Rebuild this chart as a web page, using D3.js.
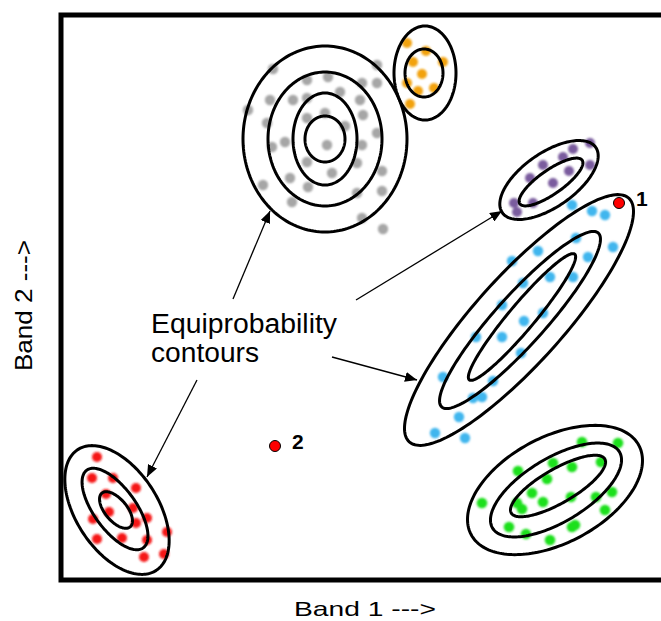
<!DOCTYPE html>
<html>
<head>
<meta charset="utf-8">
<script src="https://cdn.jsdelivr.net/npm/d3@7"></script>
<style>
  html, body { margin: 0; padding: 0; background: #fff; }
  svg { display: block; }
  text { font-family: "Liberation Sans", Arial, sans-serif; }
</style>
</head>
<body>
<svg id="chart" width="661" height="621"></svg>
<script>
// ---- data (Band 1 = x, Band 2 = y, in image-feature units) ----
const grayPoints = [[212,511],[209,480],[187,470],[206,457],[246,500],[267,503],[279,488],[301,497],[316,515],[316,497],
  [232,480],[246,482],[299,480],[302,465],[264,467],[246,462],[284,454],[224,438],[211,433],[266,435],[301,435],[316,447],
  [246,418],[296,417],[321,409],[271,407],[229,402],[247,393],[202,395],[231,378],[296,387],[321,389],[301,362],[322,351]];
const orangePoints = [[346,537],[365,529],[382,518],[352,518],[361,506],[346,497],[357,489],[373,492],[349,476]];
const purplePoints = [[529,437],[512,431],[502,423],[482,415],[529,415],[508,409],[469,402],[492,397],[453,377],[472,377],[456,368]];
const bluePoints = [[511,375],[531,369],[544,365],[515,342],[552,333],[477,329],[451,319],[527,323],[489,303],[512,303],
  [462,297],[441,275],[482,267],[463,259],[415,243],[441,243],[460,227],[382,203],[432,199],[412,182],[421,183],[398,163],[374,147],[404,142]];
const greenPoints = [[521,138],[557,137],[457,109],[492,117],[511,113],[540,118],[486,101],[471,87],[551,88],[510,83],[535,83],
  [421,77],[482,78],[456,77],[461,71],[544,70],[448,53],[514,55],[511,53],[465,46],[489,40]];
const redPoints = [[36,123],[31,102],[52,102],[75,92],[45,86],[48,68],[72,72],[86,62],[32,61],[75,57],[106,48],[36,41],[61,42],[86,40],[103,26],[83,23]];
const unknownPoints = [[558,377,"1"],[214,134,"2"]];

// contour ellipses: [cx, cy, semi-major, semi-minor, angle(deg)]
const grayContours   = [[264,441,20,23,0],[264,441,32,46,0],[264,441,57,67,0],[264,441,82,93,0]];
const orangeContours = [[363,507,19,24,0],[364,507,31,47,0]];
const purpleContours = [[490,398,38,12,35],[488,400,57,27,35]];
const blueContours   = [[461,263,82,13,50],[459,260,117,25,48],[458,260,164,44,48]];
const greenContours  = [[497,94,54,17,30],[495,90,74,32,31],[494,90,95,53,28]];
const redContours    = [[55,70,22,11,-50],[54,71,48,21,-54],[56,70,72,41,-57]];

// annotation arrows: [x1, y1, x2(tip), y2(tip)]
const arrows = [[172,281,209,369],[295,280,441,369],[271,223,356,200],[136,200,86,103]];
const noteLines = ["Equiprobability", "contours"];
const xLabel = "Band 1 --->";
const yLabel = "Band 2 --->";

// ---- scales ----
const svg = d3.select("#chart");
const x = d3.scaleLinear().domain([0, 600]).range([61, 661]);
const y = d3.scaleLinear().domain([0, 565]).range([580, 15]);

const defs = svg.append("defs");
defs.append("filter").attr("id", "soft").attr("x", "-50%").attr("y", "-50%").attr("width", "200%").attr("height", "200%")
  .append("feGaussianBlur").attr("stdDeviation", 0.9);
defs.append("marker").attr("id", "head").attr("viewBox", "0 0 12 10").attr("refX", 12).attr("refY", 5)
  .attr("markerWidth", 12).attr("markerHeight", 10).attr("markerUnits", "userSpaceOnUse").attr("orient", "auto")
  .append("path").attr("d", "M0,0 L12,5 L0,10 Z").attr("fill", "#000");

// frame
svg.append("rect")
  .attr("x", x(0)).attr("y", y(565))
  .attr("width", x(620) - x(0)).attr("height", y(0) - y(565))
  .attr("fill", "none").attr("stroke", "#000").attr("stroke-width", 5);

// points
const groups = [
  [grayPoints, "#a6a6a6", 5.2],
  [orangePoints, "#f2a20a", 5],
  [purplePoints, "#7a5c9e", 5],
  [bluePoints, "#41b6ee", 5.2],
  [greenPoints, "#1fe01f", 5.3],
  [redPoints, "#f51515", 5]
];
groups.forEach(([pts, col, r]) => {
  svg.append("g").attr("filter", "url(#soft)")
    .selectAll("circle").data(pts).join("circle")
    .attr("cx", d => x(d[0])).attr("cy", d => y(d[1])).attr("r", r).attr("fill", col);
});

// ellipses generated in data space
const line = d3.line().x(d => x(d[0])).y(d => y(d[1])).curve(d3.curveLinearClosed);
function ellipsePts(e) {
  const [cx, cy, a, b, ang] = e;
  const t = ang * Math.PI / 180;
  return d3.range(0, 360, 2).map(k => {
    const s = k * Math.PI / 180;
    const u = a * Math.cos(s), v = b * Math.sin(s);
    return [cx + u * Math.cos(t) - v * Math.sin(t), cy + u * Math.sin(t) + v * Math.cos(t)];
  });
}
const allContours = [].concat(grayContours, orangeContours, purpleContours, blueContours, greenContours, redContours);
svg.append("g").selectAll("path").data(allContours).join("path")
  .attr("d", d => line(ellipsePts(d)))
  .attr("fill", "none").attr("stroke", "#000").attr("stroke-width", 3);

// unknown pixels
svg.append("g").selectAll("circle").data(unknownPoints).join("circle")
  .attr("cx", d => x(d[0])).attr("cy", d => y(d[1])).attr("r", 5.5)
  .attr("fill", "#f00").attr("stroke", "#000").attr("stroke-width", 1);
svg.append("g").selectAll("text").data(unknownPoints).join("text")
  .attr("x", d => x(d[0]) + 17).attr("y", d => y(d[1]) + 3)
  .attr("font-size", 21).attr("font-weight", "bold").attr("fill", "#000")
  .text(d => d[2]);

// arrows
svg.append("g").selectAll("line").data(arrows).join("line")
  .attr("x1", d => x(d[0])).attr("y1", d => y(d[1])).attr("x2", d => x(d[2])).attr("y2", d => y(d[3]))
  .attr("stroke", "#000").attr("stroke-width", 1.3).attr("marker-end", "url(#head)");

// annotation text
const noteWidths = [186, 108];
svg.append("g").selectAll("text").data(noteLines).join("text")
  .attr("x", x(90)).attr("y", (d, i) => y(247) + i * 29)
  .attr("font-size", 27).attr("fill", "#000")
  .attr("textLength", (d, i) => noteWidths[i]).attr("lengthAdjust", "spacingAndGlyphs")
  .text(d => d);

// axis titles
svg.append("text").attr("x", 294).attr("y", 616)
  .attr("font-size", 21).attr("fill", "#000")
  .attr("textLength", 142).attr("lengthAdjust", "spacingAndGlyphs")
  .text(xLabel);
svg.append("text").attr("transform", "translate(32,371) rotate(-90)")
  .attr("font-size", 24).attr("fill", "#000")
  .attr("textLength", 131).attr("lengthAdjust", "spacingAndGlyphs")
  .text(yLabel);
</script>
</body>
</html>
